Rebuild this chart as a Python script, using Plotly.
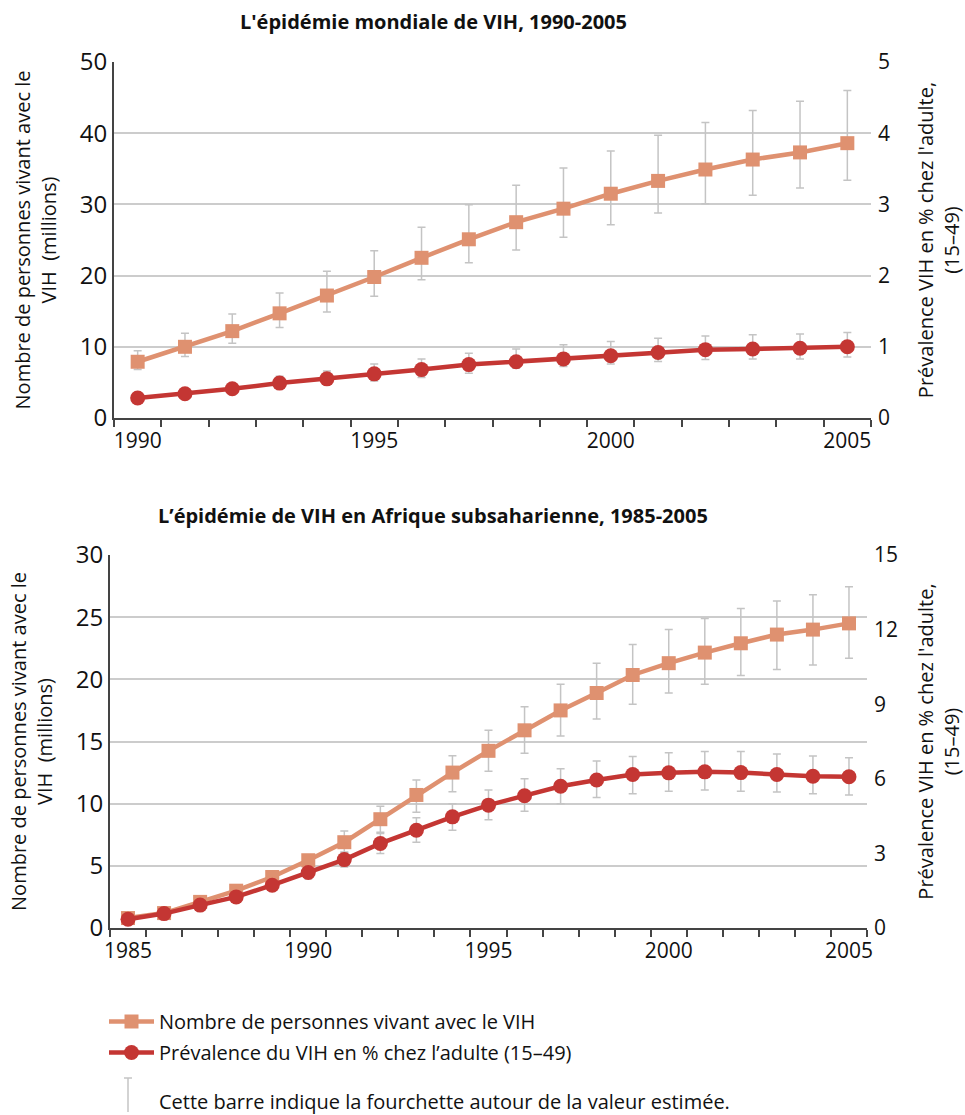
import plotly.graph_objects as go

# body margin is removed by a post-script, so the figure starts at screen (0, 0)
OFF = 0
W, H = 965 - OFF, 1115 - OFF

# ---- Data: world 1990-2005 ----
years_world = list(range(1990, 2006))
world_plhiv = [7.9, 10.0, 12.2, 14.7, 17.2, 19.8, 22.5, 25.1, 27.5, 29.4, 31.5, 33.3, 34.9, 36.3, 37.3, 38.6]
world_plhiv_hi = [9.45, 11.9, 14.6, 17.55, 20.6, 23.5, 26.8, 29.95, 32.7, 35.1, 37.5, 39.7, 41.5, 43.2, 44.5, 46.0]
world_plhiv_lo = [6.8, 8.65, 10.5, 12.7, 14.9, 17.1, 19.4, 21.8, 23.6, 25.4, 27.15, 28.8, 30.1, 31.3, 32.3, 33.4]
world_prev = [0.28, 0.34, 0.41, 0.49, 0.55, 0.62, 0.68, 0.75, 0.79, 0.83, 0.875, 0.92, 0.96, 0.97, 0.98, 1.0]
world_prev_hi = [0.33, 0.40, 0.48, 0.585, 0.66, 0.76, 0.83, 0.91, 0.97, 1.03, 1.075, 1.12, 1.15, 1.17, 1.18, 1.2]
world_prev_lo = [0.24, 0.29, 0.35, 0.42, 0.47, 0.52, 0.57, 0.63, 0.70, 0.725, 0.76, 0.795, 0.82, 0.83, 0.83, 0.855]

# ---- Data: sub-Saharan Africa 1985-2005 ----
years_ssa = list(range(1985, 2006))
ssa_plhiv = [0.8, 1.2, 2.1, 3.0, 4.1, 5.45, 6.9, 8.75, 10.7, 12.5, 14.25, 15.9, 17.5, 18.9, 20.35, 21.3, 22.15, 22.9, 23.6, 24.0, 24.5]
ssa_plhiv_hi = [0.9, 1.35, 2.3, 3.3, 4.5, 5.9, 7.8, 9.8, 11.9, 13.85, 15.9, 17.8, 19.6, 21.3, 22.8, 24.0, 24.9, 25.7, 26.3, 26.8, 27.45]
ssa_plhiv_lo = [0.7, 1.05, 1.85, 2.7, 3.7, 5.0, 6.1, 7.7, 9.3, 10.95, 12.6, 14.05, 15.45, 16.8, 18.0, 18.9, 19.6, 20.3, 20.8, 21.15, 21.7]
ssa_prev = [0.35, 0.58, 0.92, 1.25, 1.72, 2.23, 2.75, 3.4, 3.93, 4.47, 4.94, 5.32, 5.7, 5.95, 6.17, 6.24, 6.28, 6.25, 6.17, 6.1, 6.08]
ssa_prev_hi = [0.4, 0.65, 1.02, 1.38, 1.9, 2.45, 3.05, 3.8, 4.43, 5.0, 5.55, 6.0, 6.4, 6.72, 6.9, 7.05, 7.1, 7.1, 7.0, 6.92, 6.85]
ssa_prev_lo = [0.3, 0.5, 0.82, 1.1, 1.52, 1.98, 2.45, 3.0, 3.45, 3.93, 4.35, 4.7, 5.0, 5.25, 5.4, 5.5, 5.55, 5.5, 5.47, 5.4, 5.35]

name_plhiv = "Nombre de personnes vivant avec le VIH"
name_prev = "Prévalence du VIH en % chez l’adulte (15–49)"
note_text = "Cette barre indique la fourchette autour de la valeur estimée."
title_world = "L'épidémie mondiale de VIH, 1990-2005"
title_ssa = "L’épidémie de VIH en Afrique subsaharienne, 1985-2005"

C_SALMON = "#df9170"
C_RED = "#c43633"
C_ERR = "#c4c4c4"
C_AXIS = "#444444"
C_GRID = "#cccccc"
FONT = "Open Sans"
TXT = "#111111"


def err(v, hi, lo):
    return dict(type="data", symmetric=False,
                array=[h - x for h, x in zip(hi, v)],
                arrayminus=[x - l for x, l in zip(v, lo)],
                color=C_ERR, thickness=1.5, width=4)


fig = go.Figure()

def add_pair(x, n, nhi, nlo, p, phi, plo, xa, ya, ya2, legend):
    fig.add_trace(go.Scatter(
        x=x, y=n, name=name_plhiv, xaxis=xa, yaxis=ya, mode="lines+markers",
        legendgroup="a",
        line=dict(color=C_SALMON, width=4.5),
        marker=dict(symbol="square", size=14, color=C_SALMON),
        error_y=err(n, nhi, nlo), showlegend=legend))
    fig.add_trace(go.Scatter(
        x=x, y=p, name=name_prev, xaxis=xa, yaxis=ya2, mode="lines+markers",
        legendgroup="b",
        line=dict(color=C_RED, width=4.5),
        marker=dict(symbol="circle", size=15, color=C_RED),
        error_y=err(p, phi, plo), showlegend=legend))

add_pair(years_world, world_plhiv, world_plhiv_hi, world_plhiv_lo,
         world_prev, world_prev_hi, world_prev_lo, "x", "y", "y2", True)
add_pair(years_ssa, ssa_plhiv, ssa_plhiv_hi, ssa_plhiv_lo,
         ssa_prev, ssa_prev_hi, ssa_prev_lo, "x2", "y3", "y4", False)


def px_x(p):
    return (p - OFF) / W

def px_y(p):
    return 1 - (p - OFF) / H


def xaxis_cfg(dom, y0, y1, anchor):
    return dict(domain=dom, range=[y0 - 0.5, y1 + 0.5], anchor=anchor, automargin=False,
                tickmode="array", tickvals=list(range(y0, y1 + 1, 5)),
                ticktext=[str(v) for v in range(y0, y1 + 1, 5)],
                ticks="outside", ticklen=0, tickcolor=C_AXIS,
                minor=dict(tick0=y0 - 0.5, dtick=1, ticks="outside", ticklen=7,
                           tickcolor=C_AXIS, tickwidth=1.5, showgrid=False),
                showline=True, linecolor=C_AXIS, linewidth=2,
                showgrid=False, zeroline=False, ticklabelstandoff=3,
                tickfont=dict(family=FONT, size=21, color=TXT))

ytitle_left = "Nombre de personnes vivant avec le<br>VIH  (millions)"
ytitle_right = "Prévalence VIH en % chez l'adulte,<br>(15–49)"

def yaxis_left(dom, rng, dtick, anchor):
    return dict(domain=dom, range=rng, dtick=dtick, anchor=anchor, automargin=False,
                showline=True, linecolor=C_AXIS, linewidth=2,
                showgrid=True, gridcolor=C_GRID, gridwidth=1.5, zeroline=False,
                ticks="", tickfont=dict(family=FONT, size=24, color=TXT),
                title=dict(text=ytitle_left, font=dict(family=FONT, size=20, color=TXT),
                           standoff=18))

def yaxis_right(over, rng, dtick, anchor):
    return dict(overlaying=over, side="right", range=rng, dtick=dtick, anchor=anchor,
                automargin=False,
                showline=False, showgrid=False, zeroline=False, ticks="",
                ticklabelstandoff=6,
                tickfont=dict(family=FONT, size=21, color=TXT),
                title=dict(text=ytitle_right, font=dict(family=FONT, size=20, color=TXT),
                           standoff=40))

fig.update_layout(
    width=W, height=H, margin=dict(l=0, r=0, t=0, b=0, autoexpand=False),
    paper_bgcolor="white", plot_bgcolor="white",
    font=dict(family=FONT, color=TXT),
    xaxis=xaxis_cfg([px_x(114), px_x(871)], 1990, 2005, "y"),
    yaxis=yaxis_left([px_y(418), px_y(62)], [0, 50], 10, "x"),
    yaxis2=yaxis_right("y", [0, 5], 1, "x"),
    xaxis2=xaxis_cfg([px_x(110), px_x(867)], 1985, 2005, "y3"),
    yaxis3=yaxis_left([px_y(928), px_y(555)], [0, 30], 5, "x2"),
    yaxis4=yaxis_right("y3", [0, 15], 3, "x2"),
    legend=dict(x=px_x(104), y=px_y(1002), xanchor="left", yanchor="top",
                itemwidth=45,
                font=dict(family=FONT, size=20, color=TXT),
                bgcolor="rgba(0,0,0,0)", tracegroupgap=2),
    annotations=[
        dict(text="<b>" + title_world + "</b>", x=px_x(433), y=px_y(21),
             xref="paper", yref="paper", showarrow=False, yanchor="middle",
             font=dict(family=FONT, size=20, color=TXT)),
        dict(text="<b>" + title_ssa + "</b>", x=px_x(433),
             y=px_y(515), xref="paper", yref="paper", showarrow=False, yanchor="middle",
             font=dict(family=FONT, size=20, color=TXT)),
        dict(text=note_text, x=px_x(157), y=px_y(1101), xref="paper", yref="paper",
             xanchor="left", yanchor="middle", showarrow=False,
             font=dict(family=FONT, size=20, color=TXT)),
    ],
    shapes=[
        dict(type="line", xref="paper", yref="paper", x0=px_x(128), x1=px_x(128),
             y0=px_y(1078), y1=px_y(1112), line=dict(color=C_ERR, width=1.5)),
        dict(type="line", xref="paper", yref="paper", x0=px_x(124), x1=px_x(132),
             y0=px_y(1078), y1=px_y(1078), line=dict(color=C_ERR, width=1.5)),
    ],
)

fig.write_html("out.html", config={"displayModeBar": False},
               post_script="document.body.style.margin='0';document.body.style.overflow='hidden';")
